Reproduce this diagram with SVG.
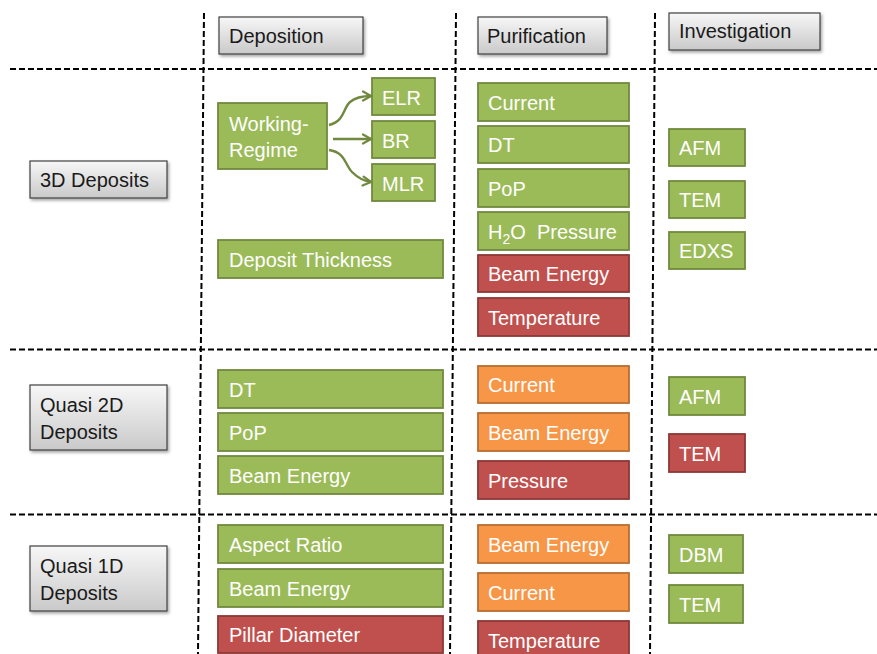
<svg xmlns="http://www.w3.org/2000/svg" width="877" height="654" viewBox="0 0 877 654">
<defs>
<linearGradient id="gray" x1="0" y1="0" x2="0" y2="1">
<stop offset="0" stop-color="#f7f7f7"/>
<stop offset="1" stop-color="#c9c9c9"/>
</linearGradient>
<filter id="sh" x="-10%" y="-10%" width="130%" height="140%">
<feDropShadow dx="1.5" dy="2" stdDeviation="1.5" flood-color="#000" flood-opacity="0.35"/>
</filter>
<marker id="arr" viewBox="0 0 12 12" refX="10" refY="6" markerWidth="12" markerHeight="12" markerUnits="userSpaceOnUse" orient="auto">
<path d="M2,1.5 L10,6 L2,10.5" fill="none" stroke="#71893F" stroke-width="2.2" stroke-linecap="round" stroke-linejoin="round"/>
</marker>
</defs>
<style>
.dash{stroke:#000;stroke-width:2;stroke-dasharray:6,3;fill:none}
.hd rect{fill:url(#gray);stroke:#404040;stroke-width:1.2;filter:url(#sh)}
.hd text{fill:#1a1a1a}
text{font-family:"Liberation Sans",Arial,sans-serif;font-size:20px}
.g rect{fill:#9BBB59;stroke:#71893F;stroke-width:1.8}
.r rect{fill:#C0504D;stroke:#8C3836;stroke-width:1.8}
.o rect{fill:#F79646;stroke:#B66D31;stroke-width:1.8}
.g text,.r text,.o text{fill:#fff}
.con path{fill:none;stroke:#71893F;stroke-width:2.4;marker-end:url(#arr)}
</style>
<rect width="877" height="654" fill="#fff"/>
<g id="grid">
<line class="dash" x1="204" y1="13" x2="198" y2="654"/>
<line class="dash" x1="456" y1="13" x2="450" y2="654"/>
<line class="dash" x1="655" y1="13" x2="650" y2="654"/>
<line class="dash" x1="10" y1="69" x2="877" y2="69"/>
<line class="dash" x1="10" y1="349.5" x2="877" y2="349.5"/>
<line class="dash" x1="10" y1="514.5" x2="877" y2="514.5"/>
</g>
<g id="h-deposition" class="hd"><rect x="219" y="17" width="144" height="37"/><text x="229" y="43">Deposition</text></g>
<g id="h-purification" class="hd"><rect x="478" y="17" width="129" height="37"/><text x="487" y="43">Purification</text></g>
<g id="h-investigation" class="hd"><rect x="669" y="13" width="151" height="37"/><text x="679" y="38">Investigation</text></g>
<g id="h-3d" class="hd"><rect x="30" y="161" width="137" height="37"/><text x="40" y="187">3D Deposits</text></g>
<g id="h-2d" class="hd"><rect x="30" y="385" width="137" height="65"/><text x="40" y="412">Quasi 2D</text><text x="40" y="439">Deposits</text></g>
<g id="h-1d" class="hd"><rect x="30" y="546" width="137" height="65"/><text x="40" y="573">Quasi 1D</text><text x="40" y="600">Deposits</text></g>

<g id="d3-wr" class="g"><rect x="218" y="103" width="109" height="66"/><text x="229" y="131">Working-</text><text x="229" y="157">Regime</text></g>
<g id="d3-elr" class="g"><rect x="372" y="78" width="63" height="37"/><text x="382" y="105">ELR</text></g>
<g id="d3-br" class="g"><rect x="372" y="121" width="63" height="37"/><text x="382" y="148">BR</text></g>
<g id="d3-mlr" class="g"><rect x="372" y="164" width="63" height="37"/><text x="382" y="191">MLR</text></g>
<g id="d3-dt" class="g"><rect x="218" y="240" width="225" height="38"/><text x="229" y="267">Deposit Thickness</text></g>

<g id="p3-cur" class="g"><rect x="478" y="83" width="151" height="38"/><text x="488" y="110">Current</text></g>
<g id="p3-dt" class="g"><rect x="478" y="126" width="151" height="37"/><text x="488" y="152">DT</text></g>
<g id="p3-pop" class="g"><rect x="478" y="169" width="151" height="38"/><text x="488" y="196">PoP</text></g>
<g id="p3-h2o" class="g"><rect x="478" y="212" width="151" height="38"/><text x="488" y="239" xml:space="preserve">H<tspan dy="5" font-size="14">2</tspan><tspan dy="-5">O  Pressure</tspan></text></g>
<g id="p3-be" class="r"><rect x="478" y="255" width="151" height="37"/><text x="488" y="281">Beam Energy</text></g>
<g id="p3-temp" class="r"><rect x="478" y="298" width="151" height="38"/><text x="488" y="325">Temperature</text></g>

<g id="i3-afm" class="g"><rect x="669" y="129" width="76" height="37"/><text x="679" y="155">AFM</text></g>
<g id="i3-tem" class="g"><rect x="669" y="181" width="76" height="37"/><text x="679" y="207">TEM</text></g>
<g id="i3-edxs" class="g"><rect x="669" y="232" width="76" height="37"/><text x="679" y="258">EDXS</text></g>

<g id="d2-dt" class="g"><rect x="218" y="370" width="225" height="38"/><text x="229" y="397">DT</text></g>
<g id="d2-pop" class="g"><rect x="218" y="413" width="225" height="38"/><text x="229" y="440">PoP</text></g>
<g id="d2-be" class="g"><rect x="218" y="456" width="225" height="38"/><text x="229" y="483">Beam Energy</text></g>

<g id="p2-cur" class="o"><rect x="478" y="366" width="151" height="37"/><text x="488" y="392">Current</text></g>
<g id="p2-be" class="o"><rect x="478" y="413" width="151" height="38"/><text x="488" y="440">Beam Energy</text></g>
<g id="p2-pr" class="r"><rect x="478" y="461" width="151" height="38"/><text x="488" y="488">Pressure</text></g>

<g id="i2-afm" class="g"><rect x="669" y="377" width="76" height="38"/><text x="679" y="404">AFM</text></g>
<g id="i2-tem" class="r"><rect x="669" y="434" width="76" height="38"/><text x="679" y="461">TEM</text></g>

<g id="d1-ar" class="g"><rect x="218" y="525" width="225" height="38"/><text x="229" y="552">Aspect Ratio</text></g>
<g id="d1-be" class="g"><rect x="218" y="569" width="225" height="38"/><text x="229" y="596">Beam Energy</text></g>
<g id="d1-pd" class="r"><rect x="218" y="616" width="225" height="37"/><text x="229" y="642">Pillar Diameter</text></g>

<g id="p1-be" class="o"><rect x="478" y="525" width="151" height="38"/><text x="488" y="552">Beam Energy</text></g>
<g id="p1-cur" class="o"><rect x="478" y="573" width="151" height="38"/><text x="488" y="600">Current</text></g>
<g id="p1-temp" class="r"><rect x="478" y="621" width="151" height="38"/><text x="488" y="648">Temperature</text></g>

<g id="i1-dbm" class="g"><rect x="669" y="535" width="74" height="38"/><text x="679" y="562">DBM</text></g>
<g id="i1-tem" class="g"><rect x="669" y="585" width="74" height="38"/><text x="679" y="612">TEM</text></g>

<g id="connectors" class="con">
<path d="M329,125 C345,121 343,108 350,102 C356,97 362,96 371,96"/>
<path d="M333,139 L371,139"/>
<path d="M329,150 C345,152 345,165 352,172 C358,178 363,181 371,182"/>
</g>
</svg>
